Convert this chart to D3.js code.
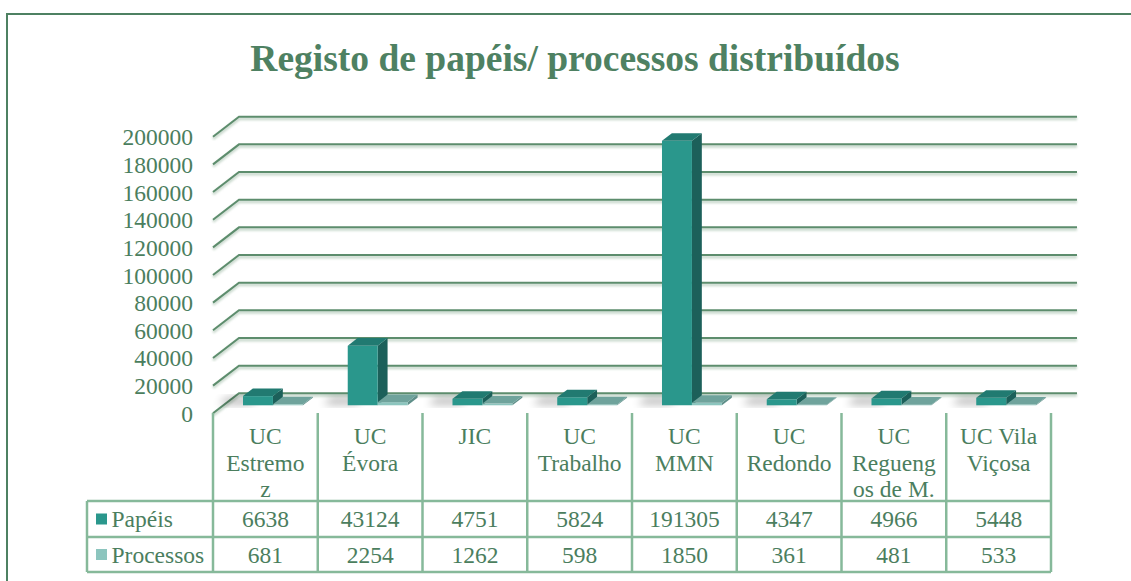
<!DOCTYPE html>
<html>
<head>
<meta charset="utf-8">
<script src="https://cdn.jsdelivr.net/npm/d3@7"></script>
<style>
  html, body { margin: 0; padding: 0; background: #fff; }
  svg { display: block; }
  text { font-family: "Liberation Serif", "Times New Roman", serif; }
</style>
</head>
<body>
<div id="chart"></div>
<script>
// data
var categories = ["UC Estremoz", "UC Évora", "JIC", "UC Trabalho", "UC MMN", "UC Redondo", "UC Reguengos de M.", "UC Vila Viçosa"];
var papeis = [6638, 43124, 4751, 5824, 191305, 4347, 4966, 5448];
var processos = [681, 2254, 1262, 598, 1850, 361, 481, 533];
var seriesNames = ["Papéis", "Processos"];
var yTicks = [0, 20000, 40000, 60000, 80000, 100000, 120000, 140000, 160000, 180000, 200000];
var title = "Registo de papéis/ processos distribuídos";

var width = 1131, height = 581;
var textColor = "#4b7e5e";
var gridColor = "#5d8d6d";
var tableColor = "#86b99a";
var frontColors = ["#2a978c", "#8cc5be"];
var topColors = ["#217a71", "#6fa39c"];
var sideColors = ["#1c605a", "#5f8f89"];

// 3d offsets of the back wall
var depthX = 26, depthY = -20;
var fontSize = 23.5;

var svg = d3.select("#chart").append("svg")
    .attr("width", width)
    .attr("height", height);

var defs = svg.append("defs");
defs.append("filter").attr("id", "soft")
    .attr("x", "-50%").attr("y", "-50%").attr("width", "200%").attr("height", "200%")
    .append("feGaussianBlur").attr("stdDeviation", 4);
defs.append("filter").attr("id", "lineBlur")
    .append("feGaussianBlur").attr("stdDeviation", 1);

// outer frame (no right/bottom edge visible)
svg.append("path")
    .attr("d", "M7," + height + " L7,14 L" + width + ",14")
    .attr("fill", "none")
    .attr("stroke", "#4e8162")
    .attr("stroke-width", 2);

svg.append("text")
    .attr("x", 575)
    .attr("y", 71)
    .attr("text-anchor", "middle")
    .attr("font-size", 37.5)
    .attr("font-weight", "bold")
    .attr("fill", "#4e8162")
    .text(title);

var x = d3.scaleBand().domain(categories).range([213, 1051]);
var y = d3.scaleLinear().domain([0, 200000]).range([413.3, 136.7]);

// project a point at depth z (0 = front, 1 = back wall)
function px(xv, z) { return xv + z * depthX; }
function py(yv, z) { return yv + z * depthY; }

// gridlines: slant on the left side wall then along the back wall
var grid = svg.append("g");
function gridPath(t) {
    var yf = y(t);
    return "M" + x.range()[0] + "," + yf +
        " L" + px(x.range()[0], 1) + "," + py(yf, 1) +
        " L" + px(x.range()[1], 1) + "," + py(yf, 1);
}
grid.selectAll("path.halo")
    .data(yTicks)
    .enter().append("path")
    .attr("class", "halo")
    .attr("d", gridPath)
    .attr("transform", "translate(0,2)")
    .attr("fill", "none")
    .attr("stroke", "#c9d9cd")
    .attr("stroke-width", 3)
    .attr("filter", "url(#lineBlur)");
grid.selectAll("path.line")
    .data(yTicks)
    .enter().append("path")
    .attr("class", "line")
    .attr("d", gridPath)
    .attr("fill", "none")
    .attr("stroke", gridColor)
    .attr("stroke-width", 2);

// value axis labels
svg.append("g").selectAll("text")
    .data(yTicks)
    .enter().append("text")
    .attr("x", 193)
    .attr("y", function (d) { return y(d) + 8.5; })
    .attr("text-anchor", "end")
    .attr("font-size", fontSize)
    .attr("fill", textColor)
    .text(function (d) { return d; });

// bars
var z0 = 0.4, z1 = 0.78;
var barOffset = [0.187, 0.473];
var barWidth = 0.286;
var series = [papeis, processos];

function box(g, x0, x1, v, k) {
    var yb = y(0), yt = y(v);
    var front = [[px(x0, z0), py(yt, z0)], [px(x1, z0), py(yt, z0)], [px(x1, z0), py(yb, z0)], [px(x0, z0), py(yb, z0)]];
    var top = [[px(x0, z0), py(yt, z0)], [px(x0, z1), py(yt, z1)], [px(x1, z1), py(yt, z1)], [px(x1, z0), py(yt, z0)]];
    var side = [[px(x1, z0), py(yt, z0)], [px(x1, z1), py(yt, z1)], [px(x1, z1), py(yb, z1)], [px(x1, z0), py(yb, z0)]];
    var line = d3.line();
    g.append("path").attr("d", line(side) + "Z").attr("fill", sideColors[k]);
    g.append("path").attr("d", line(front) + "Z").attr("fill", frontColors[k]);
    g.append("path").attr("d", line(top) + "Z").attr("fill", topColors[k]);
}

var bars = svg.append("g");
categories.forEach(function (c, i) {
    var bw = x.bandwidth();
    var g = bars.append("g");
    // soft shadow on the floor, left of the bars
    var sx0 = x(c) + barOffset[0] * bw - 26, sx1 = x(c) + barOffset[0] * bw + 6;
    var yb = y(0);
    g.append("path")
        .attr("d", d3.line()([[px(sx0, z0 + 0.05), py(yb, z0 + 0.05)], [px(sx1, z0 + 0.05), py(yb, z0 + 0.05)],
            [px(sx1, z1), py(yb, z1)], [px(sx0, z1), py(yb, z1)]]) + "Z")
        .attr("fill", "#000")
        .attr("opacity", 0.3)
        .attr("filter", "url(#soft)");
    series.forEach(function (s, k) {
        var x0 = x(c) + barOffset[k] * bw;
        box(g, x0, x0 + barWidth * bw, s[i], k);
    });
});

// data table below the chart
var table = svg.append("g");
var tableLeft = 87, headTop = 413, headBottom = 501, rowBottoms = [537, 572];
var tableRight = x.range()[1];

table.selectAll("line.v")
    .data(categories.map(function (c) { return x(c); }).concat([tableRight]))
    .enter().append("line")
    .attr("class", "v")
    .attr("x1", function (d) { return d; })
    .attr("x2", function (d) { return d; })
    .attr("y1", headTop)
    .attr("y2", rowBottoms[1])
    .attr("stroke", tableColor)
    .attr("stroke-width", 2.5);

table.append("line")
    .attr("x1", tableLeft).attr("x2", tableLeft)
    .attr("y1", headBottom).attr("y2", rowBottoms[1])
    .attr("stroke", tableColor).attr("stroke-width", 2.5);

[headBottom].concat(rowBottoms).forEach(function (yy) {
    table.append("line")
        .attr("x1", tableLeft).attr("x2", tableRight)
        .attr("y1", yy).attr("y2", yy)
        .attr("stroke", tableColor).attr("stroke-width", 2.5);
});

// wrap header text the way the spreadsheet does, breaking long words too
function wrapLines(textSel, str, maxW) {
    function w(s) { textSel.text(s); return textSel.node().getComputedTextLength(); }
    var lines = [], cur = "";
    str.split(" ").forEach(function (word) {
        var tryLine = cur ? cur + " " + word : word;
        if (w(tryLine) <= maxW) { cur = tryLine; return; }
        if (cur) lines.push(cur);
        cur = "";
        if (w(word) <= maxW) { cur = word; return; }
        var part = "";
        word.split("").forEach(function (ch) {
            if (w(part + ch) <= maxW) part += ch;
            else { lines.push(part); part = ch; }
        });
        cur = part;
    });
    if (cur) lines.push(cur);
    textSel.text(null);
    return lines;
}

categories.forEach(function (c) {
    var cx = x(c) + x.bandwidth() / 2;
    var t = table.append("text")
        .attr("text-anchor", "middle")
        .attr("font-size", fontSize)
        .attr("fill", textColor);
    var lines = wrapLines(t, c, 87);
    lines.forEach(function (l, j) {
        t.append("tspan")
            .attr("x", cx)
            .attr("y", 444 + j * 26.5)
            .text(l);
    });
});

var rowMid = [519, 554.5];
series.forEach(function (s, k) {
    table.append("rect")
        .attr("x", 96)
        .attr("y", rowMid[k] - 5.5)
        .attr("width", 11)
        .attr("height", 11)
        .attr("fill", frontColors[k]);
    table.append("text")
        .attr("x", 111.5)
        .attr("y", rowMid[k] + 8)
        .attr("font-size", fontSize)
        .attr("fill", textColor)
        .text(seriesNames[k]);
    table.selectAll("text.v" + k)
        .data(s)
        .enter().append("text")
        .attr("class", "v" + k)
        .attr("x", function (d, i) { return x(categories[i]) + x.bandwidth() / 2; })
        .attr("y", rowMid[k] + 8)
        .attr("text-anchor", "middle")
        .attr("font-size", fontSize)
        .attr("fill", textColor)
        .text(function (d) { return d; });
});
</script>
</body>
</html>
